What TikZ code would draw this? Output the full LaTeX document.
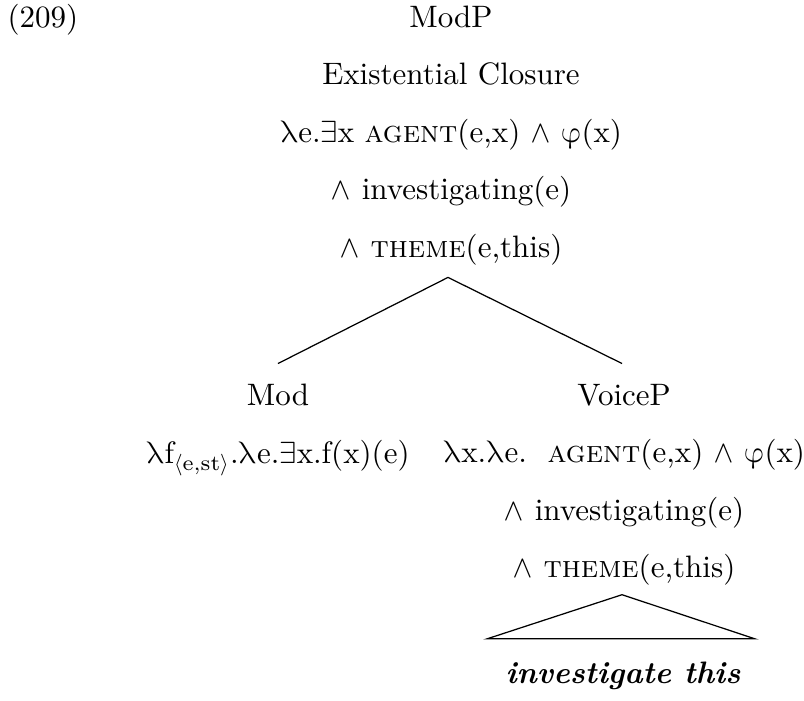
\documentclass[tikz,border=0pt]{standalone}
\usepackage{amsmath, amssymb}
\usepackage{unicode-math}
\usepackage{tikz}
\usetikzlibrary{calc}
\newcommand{\lam}{$\symup{\lambda}$}
\newcommand{\phix}{$\symup{\varphi}$}
\tikzset{every node/.append style={inner sep=0pt},
  tree label/.style={align=center, anchor=north, font=\fontsize{10}{18.5}\selectfont}}

\begin{document}
\begin{tikzpicture}[x=0.3226pt, y=-0.3226pt, line width=0.4pt]
    \useasboundingbox (0,0) rectangle (804,700);
    % example number
    \node[anchor=base west] (exnum) at (7,27) {(209)};
    % root
    \node[tree label] (modp) at (451,5.5) {ModP\\
        Existential Closure\\
        \lam e.$\exists$x \textsc{agent}(e,x) $\wedge$ \phix(x)\\
        $\wedge$ investigating(e)\\
        $\wedge$ \textsc{theme}(e,this)};
    % daughters
    \node[tree label] (mod) at (278,383.5) {Mod\\
        \lam f$_{\langle\text{e,st}\rangle}$.\lam e.$\exists$x.f(x)(e)};
    \node[tree label] (voicep) at (624,383.5) {VoiceP\\
        \lam x.\lam e.\ \ \textsc{agent}(e,x) $\wedge$ \phix(x)\\
        $\wedge$ investigating(e)\\
        $\wedge$ \textsc{theme}(e,this)};
    \node[anchor=base] (leaf) at (623,683) {\textbf{\textit{investigate this}}};
    % branches
    \coordinate (top) at ($(modp.south)+(-3,12)$);
    \draw (top) -- ($(mod.north)+(0,-20)$);
    \draw (top) -- ($(voicep.north)+(-2,-20)$);
    % roof over the leaf
    \draw ($(voicep.south)+(-2,9)$) -- ($(leaf.north)+(-136,-22)$)
        -- ($(leaf.north)+(132,-22)$) -- cycle;
\end{tikzpicture}
\end{document}
